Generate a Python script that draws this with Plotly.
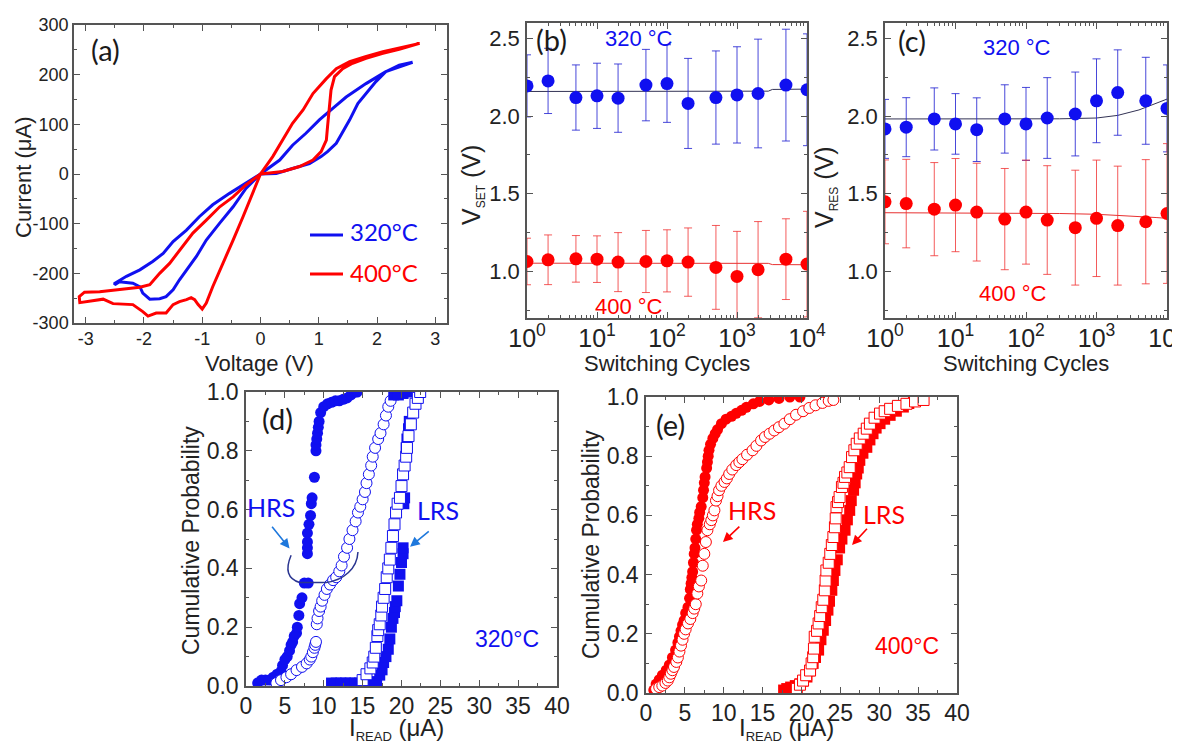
import plotly.graph_objects as go

W, H = 1180, 742
OFF = 8  # page body margin offset
def px(x): return (x - OFF) / W
def py(y): return 1 - (y - OFF) / H

# ---------------- Panel (a): I-V curves ----------------
v320 = [0, 0.27, 0.55, 0.84, 1.04, 1.15, 1.3, 1.41, 1.53, 1.67, 1.81, 1.98, 2.15, 2.38, 2.61,
        2.38, 2.15, 1.81, 1.47, 1.24, 1.01, 0.78, 0.55, 0.33, 0.1, 0,
        -0.25, -0.47, -0.7, -0.93, -1.1, -1.27, -1.39, -1.5, -1.62, -1.73, -1.9, -2.02, -2.07, -2.19, -2.3, -2.42, -2.5,
        -2.5, -2.3, -2.07, -1.85, -1.67, -1.5, -1.27, -1.05, -0.82, -0.53, -0.25, 0]
i320 = [0, 1, 11, 21, 35, 45, 62, 85, 109, 142, 162, 186, 206, 219, 225,
        216, 206, 182, 155, 132, 109, 82, 58, 28, 8, 0,
        -29, -66, -99, -133, -166, -193, -213, -233, -247, -251, -252, -240, -227, -220, -218, -217, -223,
        -220, -206, -193, -176, -160, -136, -113, -86, -62, -39, -19, 0]

v400 = [0, 0.38, 0.67, 0.9, 1.04, 1.13, 1.15, 1.18, 1.21, 1.27, 1.41, 1.58, 1.81, 2.1, 2.38, 2.73,
        2.4, 2.1, 1.8, 1.53, 1.3, 1.13, 0.9, 0.73, 0.55, 0.38, 0.21, 0,
        -0.13, -0.3, -0.47, -0.65, -0.82, -0.93, -1.0, -1.07, -1.13, -1.19, -1.27, -1.39, -1.5, -1.62, -1.79,
        -1.93, -2.02, -2.19, -2.53, -2.7, -2.87, -3.1, -3.11, -3.02, -2.76, -2.42, -2.07, -1.9, -1.73, -1.56,
        -1.39, -1.16, -0.93, -0.7, -0.47, -0.25, 0]
i400 = [0, 5, 15, 28, 45, 68, 95, 135, 169, 196, 212, 223, 233, 243, 251, 263,
        254, 246, 236, 226, 212, 192, 162, 129, 102, 68, 35, 0,
        -39, -86, -133, -180, -227, -260, -272, -263, -253, -249, -253, -257, -263, -280, -280,
        -286, -277, -263, -261, -252, -255, -259, -247, -238, -237, -233, -228, -223, -200, -180,
        -153, -119, -93, -66, -46, -22, 0]

v_ticks = [-3, -2, -1, 0, 1, 2, 3]
i_ticks = [-300, -200, -100, 0, 100, 200, 300]

# ---------------- Panels (b),(c): switching cycles ----------------
cycles = [1, 2, 5, 10, 20, 50, 100, 200, 500, 1000, 2000, 5000, 10000]
vset_320 = [2.195, 2.227, 2.12, 2.131, 2.116, 2.2, 2.21, 2.082, 2.12, 2.137, 2.146, 2.2, 2.17]
vset_320_err = [0.2, 0.21, 0.21, 0.21, 0.22, 0.23, 0.25, 0.29, 0.3, 0.31, 0.35, 0.36, 0.36]
vset_400 = [1.064, 1.075, 1.081, 1.079, 1.06, 1.064, 1.068, 1.06, 1.026, 0.968, 1.011, 1.079, 1.047]
vset_400_err = [0.15, 0.16, 0.15, 0.15, 0.19, 0.2, 0.2, 0.22, 0.27, 0.29, 0.31, 0.26, 0.34]
fit_cycles_b = [1, 10, 100, 1000, 2800, 3200, 10000]
vset_320_fit = [2.159, 2.159, 2.159, 2.16, 2.161, 2.172, 2.174]
vset_400_fit = [1.053, 1.053, 1.053, 1.053, 1.052, 1.044, 1.043]

vres_320 = [1.918, 1.929, 1.982, 1.95, 1.913, 1.982, 1.95, 1.988, 2.014, 2.099, 2.152, 2.099, 2.05]
vres_320_err = [0.19, 0.19, 0.2, 0.195, 0.205, 0.22, 0.235, 0.26, 0.27, 0.27, 0.275, 0.28, 0.28]
vres_400 = [1.448, 1.437, 1.401, 1.427, 1.382, 1.337, 1.382, 1.331, 1.282, 1.342, 1.295, 1.32, 1.373]
vres_400_err = [0.27, 0.285, 0.3, 0.3, 0.315, 0.326, 0.335, 0.35, 0.37, 0.375, 0.383, 0.4, 0.45]
fit_cycles_c = [1, 10, 100, 300, 1000, 2000, 4000, 7000, 10000]
vres_320_fit = [1.982, 1.982, 1.982, 1.983, 1.988, 2.005, 2.04, 2.08, 2.11]
vres_400_fit = [1.378, 1.377, 1.375, 1.373, 1.368, 1.362, 1.355, 1.347, 1.342]

log_tickvals = [1, 10, 100, 1000, 10000]
log_ticktext = ["10<sup>0</sup>", "10<sup>1</sup>", "10<sup>2</sup>", "10<sup>3</sup>", "10<sup>4</sup>"]
log_minor = [2, 3, 4, 5, 6, 7, 8, 9, 20, 30, 40, 50, 60, 70, 80, 90,
             200, 300, 400, 500, 600, 700, 800, 900, 2000, 3000, 4000, 5000, 6000, 7000, 8000, 9000]

# ---------------- Panel (d): 320 C cumulative ----------------
hrs_d_fill_x = [1.5, 2.0, 2.5, 3.0, 3.5, 4.0, 4.5, 4.7, 5.0, 5.3, 5.6, 5.8, 6.0, 6.2, 6.5, 6.6, 6.8, 6.9,
                7.2, 7.5, 8.0, 7.9, 7.9, 7.9, 7.9, 8.1, 8.3, 8.4, 8.5, 8.8, 9.0, 9.0, 9.1, 9.2, 9.3, 9.4,
                9.6, 10.0, 10.5, 11.0, 11.5, 12.0, 12.5, 13.0, 13.5, 14.0, 14.3]
hrs_d_fill_y = [0.01, 0.02, 0.02, 0.02, 0.03, 0.04, 0.05, 0.07, 0.09, 0.10, 0.12, 0.14, 0.15, 0.17, 0.18, 0.20,
                0.24, 0.28, 0.30, 0.35, 0.35, 0.45, 0.47, 0.49, 0.52, 0.55, 0.58, 0.62, 0.64, 0.71, 0.80, 0.82,
                0.84, 0.86, 0.88, 0.90, 0.93, 0.95, 0.96, 0.965, 0.97, 0.97, 0.975, 0.98, 0.99, 1.0, 1.0]
hrs_d_open_x = [3.9, 4.5, 5.2, 5.8, 6.5, 7.2, 7.8, 8.2, 8.4, 8.6, 8.8, 8.9, 9.0, 9.1, 9.2, 9.4, 9.6, 9.8,
                10.1, 10.4, 10.8, 11.2, 11.6, 12.0, 12.3, 12.6, 13.0, 13.3, 13.7, 14.1, 14.4, 14.7, 15.0,
                15.3, 15.5, 15.8, 16.1, 16.3, 16.6, 17.0, 17.3, 17.7, 18.0, 18.3, 18.6]
hrs_d_open_y = [0.01, 0.02, 0.03, 0.04, 0.054, 0.065, 0.077, 0.09, 0.10, 0.115, 0.13, 0.14, 0.15, 0.21, 0.23,
                0.255, 0.27, 0.29, 0.31, 0.33, 0.345, 0.36, 0.37, 0.39, 0.41, 0.44, 0.47, 0.5, 0.53, 0.56,
                0.59, 0.61, 0.635, 0.66, 0.69, 0.72, 0.75, 0.78, 0.81, 0.84, 0.86, 0.89, 0.92, 0.95, 0.97]
lrs_d_fill_x = [11.0, 11.6, 12.2, 12.8, 13.4, 14.0, 14.6, 15.2, 15.8, 16.4, 16.8, 17.2, 17.5, 17.7, 18.0,
                18.3, 18.5, 18.7, 18.9, 19.1, 19.2, 19.4, 19.6, 19.8, 20.0, 20.2, 20.2, 20.3, 20.4, 20.6,
                20.7, 20.9, 21.0, 19.0, 19.6, 20.2, 20.8]
lrs_d_fill_y = [0.01, 0.01, 0.01, 0.01, 0.01, 0.01, 0.01, 0.01, 0.01, 0.01, 0.015, 0.037, 0.055, 0.08, 0.1,
                0.125, 0.16, 0.2, 0.23, 0.25, 0.27, 0.29, 0.34, 0.38, 0.42, 0.45, 0.47, 0.62, 0.64, 0.81,
                0.84, 0.875, 0.9, 0.99, 0.99, 0.995, 1.0]
lrs_d_open_x = [15.0, 15.5, 16.0, 16.3, 16.5, 16.7, 16.9, 17.0, 17.2, 17.4, 17.5, 17.7, 17.9, 18.1, 18.3,
                18.5, 18.7, 18.9, 19.1, 19.3, 19.5, 19.8, 20.0, 20.2, 20.4, 20.6, 20.7, 20.9, 21.2, 21.5,
                21.8, 22.1, 22.4]
lrs_d_open_y = [0.02, 0.04, 0.06, 0.08, 0.1, 0.13, 0.17, 0.19, 0.21, 0.24, 0.27, 0.30, 0.33, 0.37, 0.40,
                0.43, 0.47, 0.51, 0.55, 0.59, 0.62, 0.64, 0.68, 0.72, 0.75, 0.78, 0.81, 0.85, 0.89, 0.93,
                0.96, 0.98, 1.0]

# ---------------- Panel (e): 400 C cumulative ----------------
hrs_e_fill_x = [1.0, 1.3, 1.7, 2.1, 2.6, 3.0, 3.4, 3.8, 4.1, 4.3, 4.5, 4.7, 4.9, 5.1, 5.4, 5.6, 5.7, 5.8,
                5.9, 6.0, 6.1, 6.2, 6.3, 6.4, 6.5, 6.6, 6.8, 6.9, 7.1, 7.3, 7.4, 7.5, 7.6, 7.8, 7.9, 8.0,
                8.1, 8.3, 8.6, 8.9, 9.2, 9.7, 10.3, 11.0, 11.6, 12.3, 12.9, 13.8, 14.6, 15.8, 17.1, 18.5, 19.8]
hrs_e_fill_y = [0.01, 0.03, 0.045, 0.06, 0.077, 0.095, 0.12, 0.145, 0.17, 0.19, 0.21, 0.23, 0.245, 0.27,
                0.29, 0.32, 0.35, 0.37, 0.39, 0.41, 0.44, 0.47, 0.49, 0.52, 0.55, 0.57, 0.59, 0.61, 0.63,
                0.66, 0.685, 0.71, 0.73, 0.76, 0.78, 0.80, 0.82, 0.84, 0.86, 0.876, 0.89, 0.91, 0.925,
                0.935, 0.945, 0.955, 0.965, 0.977, 0.985, 0.99, 0.995, 1.0, 1.0]
hrs_e_open_x = [1.3, 1.7, 2.1, 2.5, 2.8, 3.0, 3.2, 3.4, 3.6, 3.9, 4.1, 4.3, 4.5, 4.7, 4.9, 5.1, 5.4, 5.7,
                6.0, 6.2, 6.4, 6.6, 6.8, 7.1, 7.3, 7.5, 7.7, 7.9, 8.2, 8.4, 8.6, 8.8, 9.0, 9.2, 9.4, 9.7,
                10.1, 10.4, 10.7, 11.1, 11.6, 12.0, 12.4, 13.0, 13.7, 14.2, 14.8, 15.3, 15.9, 16.5, 17.1,
                17.8, 18.5, 19.3, 20.2, 21.0, 21.8, 22.7, 23.5, 24.1]
hrs_e_open_y = [0.014, 0.02, 0.025, 0.034, 0.042, 0.053, 0.065, 0.077, 0.088, 0.105, 0.12, 0.14, 0.16,
                0.18, 0.20, 0.215, 0.235, 0.25, 0.27, 0.285, 0.30, 0.336, 0.36, 0.38, 0.43, 0.47, 0.51,
                0.55, 0.57, 0.584, 0.60, 0.617, 0.65, 0.665, 0.685, 0.70, 0.713, 0.725, 0.74, 0.755, 0.77,
                0.78, 0.79, 0.805, 0.82, 0.835, 0.853, 0.865, 0.876, 0.887, 0.898, 0.91, 0.925, 0.94,
                0.952, 0.963, 0.972, 0.98, 0.987, 0.99]
lrs_e_fill_x = [17.7, 18.1, 18.6, 19.2, 19.8, 20.2, 20.7, 21.1, 21.5, 21.8, 22.2, 22.5, 22.8, 23.1, 23.4,
                23.6, 23.9, 24.1, 24.3, 24.6, 24.9, 25.2, 25.6, 25.9, 26.2, 26.4, 26.7, 26.9, 27.1, 27.3,
                27.5, 27.9, 28.4, 28.8, 29.2, 29.6, 30.1, 30.7, 31.4, 32.2, 33.1, 33.8, 34.4, 34.7]
lrs_e_fill_y = [0.01, 0.015, 0.02, 0.025, 0.031, 0.04, 0.054, 0.075, 0.1, 0.12, 0.145, 0.18, 0.212, 0.245,
                0.28, 0.31, 0.347, 0.38, 0.414, 0.45, 0.49, 0.52, 0.55, 0.585, 0.617, 0.65, 0.685, 0.71,
                0.74, 0.76, 0.786, 0.81, 0.83, 0.855, 0.876, 0.895, 0.91, 0.925, 0.938, 0.952, 0.966,
                0.978, 0.99, 0.995]
lrs_e_open_x = [19.4, 19.8, 20.2, 20.6, 21.1, 21.3, 21.5, 21.6, 21.7, 22.0, 22.2, 22.4, 22.6, 22.8, 23.0,
                23.1, 23.2, 23.5, 23.7, 23.9, 24.1, 24.3, 24.4, 24.5, 24.7, 24.9, 25.2, 25.4, 25.6, 25.9,
                26.2, 26.5, 26.8, 27.1, 27.5, 28.0, 28.4, 28.8, 29.4, 30.1, 30.7, 31.4, 32.4, 33.5, 34.6, 35.7]
lrs_e_open_y = [0.014, 0.028, 0.042, 0.06, 0.076, 0.1, 0.121, 0.15, 0.19, 0.21, 0.235, 0.26, 0.29, 0.315,
                0.347, 0.38, 0.414, 0.44, 0.47, 0.5, 0.527, 0.56, 0.59, 0.628, 0.645, 0.662, 0.696, 0.71,
                0.73, 0.745, 0.763, 0.797, 0.82, 0.842, 0.86, 0.876, 0.893, 0.91, 0.93, 0.944, 0.952, 0.96,
                0.97, 0.977, 0.985, 0.99]

BLUE = "#1010f0"
RED = "#ff0000"
BLUE_ERR = "rgba(40,40,210,0.85)"
RED_ERR = "rgba(240,50,50,0.8)"
AX = "#555555"
TXT = "#222222"
ARIAL = "Liberation Sans, Arial, sans-serif"
CAL = "Lato, Open Sans, sans-serif"

fig = go.Figure()

# (a)
fig.add_trace(go.Scatter(x=v320, y=i320, mode="lines", line=dict(color=BLUE, width=3), xaxis="x", yaxis="y"))
fig.add_trace(go.Scatter(x=v400, y=i400, mode="lines", line=dict(color=RED, width=3), xaxis="x", yaxis="y"))

# (b)
fig.add_trace(go.Scatter(x=fit_cycles_b, y=vset_320_fit, mode="lines", line=dict(color="#333355", width=1), xaxis="x2", yaxis="y2"))
fig.add_trace(go.Scatter(x=fit_cycles_b, y=vset_400_fit, mode="lines", line=dict(color="#e83030", width=1), xaxis="x2", yaxis="y2"))
fig.add_trace(go.Scatter(x=cycles, y=vset_320, mode="markers", marker=dict(color=BLUE, size=13),
                         error_y=dict(type="data", array=vset_320_err, color=BLUE_ERR, thickness=1, width=4),
                         xaxis="x2", yaxis="y2"))
fig.add_trace(go.Scatter(x=cycles, y=vset_400, mode="markers", marker=dict(color=RED, size=13),
                         error_y=dict(type="data", array=vset_400_err, color=RED_ERR, thickness=1, width=4),
                         xaxis="x2", yaxis="y2"))
# (c)
fig.add_trace(go.Scatter(x=fit_cycles_c, y=vres_320_fit, mode="lines", line=dict(color="#333355", width=1), xaxis="x3", yaxis="y3"))
fig.add_trace(go.Scatter(x=fit_cycles_c, y=vres_400_fit, mode="lines", line=dict(color="#e83030", width=1), xaxis="x3", yaxis="y3"))
fig.add_trace(go.Scatter(x=cycles, y=vres_320, mode="markers", marker=dict(color=BLUE, size=13),
                         error_y=dict(type="data", array=vres_320_err, color=BLUE_ERR, thickness=1, width=4),
                         xaxis="x3", yaxis="y3"))
fig.add_trace(go.Scatter(x=cycles, y=vres_400, mode="markers", marker=dict(color=RED, size=13),
                         error_y=dict(type="data", array=vres_400_err, color=RED_ERR, thickness=1, width=4),
                         xaxis="x3", yaxis="y3"))

# (d)
fig.add_trace(go.Scatter(x=hrs_d_fill_x, y=hrs_d_fill_y, mode="markers",
                         marker=dict(symbol="circle", size=11, color=BLUE, line=dict(width=0)), xaxis="x4", yaxis="y4"))
fig.add_trace(go.Scatter(x=hrs_d_open_x, y=hrs_d_open_y, mode="markers",
                         marker=dict(symbol="circle", size=11, color="white", line=dict(color=BLUE, width=1)), xaxis="x4", yaxis="y4"))
fig.add_trace(go.Scatter(x=lrs_d_fill_x, y=lrs_d_fill_y, mode="markers",
                         marker=dict(symbol="square", size=11, color=BLUE, line=dict(width=0)), xaxis="x4", yaxis="y4"))
fig.add_trace(go.Scatter(x=lrs_d_open_x, y=lrs_d_open_y, mode="markers",
                         marker=dict(symbol="square", size=11, color="white", line=dict(color=BLUE, width=1)), xaxis="x4", yaxis="y4"))
# (e)
fig.add_trace(go.Scatter(x=hrs_e_fill_x, y=hrs_e_fill_y, mode="markers",
                         marker=dict(symbol="circle", size=11, color=RED, line=dict(width=0)), xaxis="x5", yaxis="y5"))
fig.add_trace(go.Scatter(x=hrs_e_open_x, y=hrs_e_open_y, mode="markers",
                         marker=dict(symbol="circle", size=11, color="white", line=dict(color=RED, width=1)), xaxis="x5", yaxis="y5"))
fig.add_trace(go.Scatter(x=lrs_e_fill_x, y=lrs_e_fill_y, mode="markers",
                         marker=dict(symbol="square", size=11, color=RED, line=dict(width=0)), xaxis="x5", yaxis="y5"))
fig.add_trace(go.Scatter(x=lrs_e_open_x, y=lrs_e_open_y, mode="markers",
                         marker=dict(symbol="square", size=11, color="white", line=dict(color=RED, width=1)), xaxis="x5", yaxis="y5"))


def axis(domain, anchor, size, minor, standoff=0, **kw):
    d = dict(domain=domain, anchor=anchor, showline=True, linecolor=AX, linewidth=1.5, mirror="ticks",
             ticks="inside", ticklen=6, tickwidth=1.2, tickcolor=AX, showgrid=False, zeroline=False,
             automargin=False, ticklabeloverflow="allow",
             tickfont=dict(family=ARIAL, size=size, color=TXT), ticklabelstandoff=standoff,
             minor=dict(ticks="inside", ticklen=3, tickwidth=1, tickcolor=AX, **minor))
    d.update(kw)
    return d

lay = dict(
    width=W, height=H, autosize=False, showlegend=False, template="none",
    margin=dict(l=0, r=0, t=0, b=0, pad=0), paper_bgcolor="white", plot_bgcolor="white",
    xaxis=axis([px(74), px(447)], "y", 18, dict(dtick=0.5), standoff=-1, range=[-3.2, 3.2],
               tickvals=v_ticks, ticktext=[str(v) for v in v_ticks]),
    yaxis=axis([py(323), py(25)], "x", 18, dict(dtick=50), standoff=0, range=[-300, 300],
               tickvals=i_ticks, ticktext=[str(v) for v in i_ticks]),
    xaxis2=axis([px(527), px(807)], "y2", 25, dict(tickvals=log_minor), standoff=-3, type="log", range=[0, 4],
                tickvals=log_tickvals, ticktext=log_ticktext),
    yaxis2=axis([py(318), py(23)], "x2", 22, dict(dtick=0.25), standoff=1, range=[0.7, 2.6],
                tickvals=[1.0, 1.5, 2.0, 2.5], tickformat=".1f"),
    xaxis3=axis([px(885), px(1167)], "y3", 25, dict(tickvals=log_minor), standoff=-3, type="log", range=[0, 4],
                tickvals=log_tickvals, ticktext=log_ticktext),
    yaxis3=axis([py(318), py(23)], "x3", 22, dict(dtick=0.25), standoff=1, range=[0.7, 2.6],
                tickvals=[1.0, 1.5, 2.0, 2.5], tickformat=".1f"),
    xaxis4=axis([px(246), px(557)], "y4", 23, dict(dtick=2.5), standoff=-1, range=[0, 40], dtick=5),
    yaxis4=axis([py(686), py(392)], "x4", 23, dict(dtick=0.1), standoff=1, range=[0, 1], dtick=0.2, tickformat=".1f"),
    xaxis5=axis([px(646), px(957)], "y5", 23, dict(dtick=2.5), standoff=-1, range=[0, 40], dtick=5),
    yaxis5=axis([py(693), py(397)], "x5", 23, dict(dtick=0.1), standoff=1, range=[0, 1], dtick=0.2, tickformat=".1f"),
)
fig.update_layout(**lay)

ann = []
def txt(x, y, text, size, color=TXT, family=ARIAL, angle=0, xanchor="center"):
    ann.append(dict(x=px(x), y=py(y), xref="paper", yref="paper", text=text, showarrow=False,
                    font=dict(family=family, size=size, color=color), textangle=angle,
                    xanchor=xanchor, yanchor="middle"))

# panel letters
txt(105.5, 50, "(a)", 29, "#1a1a1a", CAL)
txt(551.5, 39, "(b)", 29, "#1a1a1a", CAL)
txt(911.5, 41, "(c)", 29, "#1a1a1a", CAL)
txt(277.5, 418, "(d)", 29, "#1a1a1a", CAL)
txt(670, 424, "(e)", 29, "#1a1a1a", CAL)

# axis titles
txt(23, 178, "Current (μA)", 22, angle=-90)
txt(259.5, 363, "Voltage (V)", 22)
txt(472, 185, "V<sub><span style='font-size:12px'>SET</span></sub> (V)", 25, angle=-90)
txt(825, 187, "V<sub><span style='font-size:12px'>RES</span></sub> (V)", 25, angle=-90)
txt(667, 363, "Switching Cycles", 22)
txt(1026, 363, "Switching Cycles", 22)
txt(191, 541, "Cumulative Probability", 23, angle=-90)
txt(591, 545, "Cumulative Probability", 23, angle=-90)
txt(396, 729, "I<sub><span style='font-size:13px'>READ</span></sub> (μA)", 24)
txt(786, 729, "I<sub><span style='font-size:13px'>READ</span></sub> (μA)", 24)

# legend (a)
txt(348, 232, "320°C", 24, BLUE, CAL, xanchor="left")
txt(348, 272, "400°C", 24, RED, CAL, xanchor="left")

# temperature labels
txt(639, 38.5, "320 °C", 22, BLUE)
txt(629, 306, "400 °C", 22, RED)
txt(1017, 47.5, "320 °C", 22, BLUE)
txt(1012.5, 294, "400 °C", 22, RED)
txt(506.7, 639, "320°C", 23, BLUE)
txt(906.7, 646, "400°C", 23, RED)

# HRS / LRS labels
txt(270.5, 506.7, "HRS", 25, BLUE, CAL)
txt(437.5, 510, "LRS", 25, BLUE, CAL)
txt(751.7, 510, "HRS", 25, RED, CAL)
txt(884, 514, "LRS", 25, RED, CAL)

def arrow(xr, yr, hx, hy, tx, ty, color):
    ann.append(dict(x=hx, y=hy, ax=tx, ay=ty, xref=xr, yref=yr, axref=xr, ayref=yr, text="",
                    showarrow=True, arrowhead=2, arrowsize=1.2, arrowwidth=1.6, arrowcolor=color))

arrow("x4", "y4", 5.6, 0.468, 3.2, 0.547, "#1e78dc")
arrow("x4", "y4", 21.1, 0.474, 23.7, 0.53, "#1e78dc")
arrow("x5", "y5", 9.9, 0.51, 12.2, 0.567, RED)
arrow("x5", "y5", 26.5, 0.50, 28.6, 0.56, RED)

fig.update_layout(annotations=ann)

shapes = [
    dict(type="line", xref="paper", yref="paper", x0=px(310), x1=px(343), y0=py(235), y1=py(235),
         line=dict(color=BLUE, width=3)),
    dict(type="line", xref="paper", yref="paper", x0=px(310), x1=px(343), y0=py(274), y1=py(274),
         line=dict(color=RED, width=3)),
    dict(type="path", xref="x4", yref="y4",
         path="M 5.8,0.445 Q 4.6,0.37 6.9,0.352 L 10.3,0.352 C 12.6,0.36 14.3,0.4 14.4,0.456",
         line=dict(color="#2a3590", width=1.5)),
]
fig.update_layout(shapes=shapes)

fig.write_html("out.html")
